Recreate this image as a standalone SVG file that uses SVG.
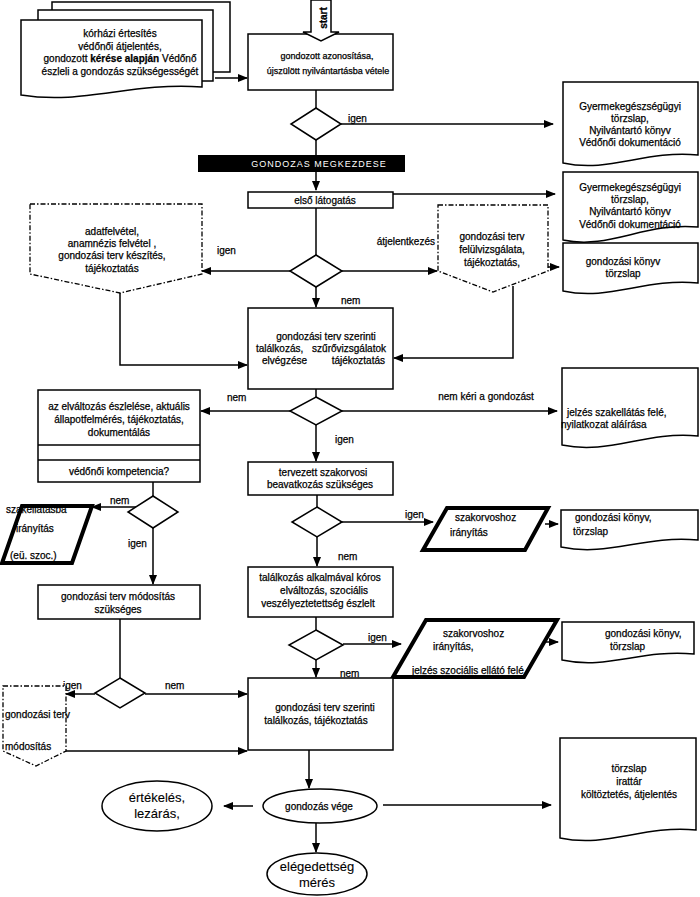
<svg xmlns="http://www.w3.org/2000/svg" width="700" height="897" viewBox="0 0 700 897">
<style>
.b{fill:#fff;stroke:#000;stroke-width:1.5}
.k{fill:#fff;stroke:#000;stroke-width:4;stroke-linejoin:miter}
.dd{fill:#fff;stroke:#000;stroke-width:1.3;stroke-dasharray:5 2 1.5 2}
.ln{fill:none;stroke:#000;stroke-width:1.5}
.ar{marker-end:url(#ah)}
.t{font-family:"Liberation Sans",Arial,sans-serif;font-size:10px;fill:#000;stroke:#000;stroke-width:0.25}
.s9{font-size:9px}
.c{text-anchor:middle}
.e{text-anchor:end}
.big{font-size:13px;stroke-width:0.1}
.w{font-family:"Liberation Sans",Arial,sans-serif;font-size:9px;fill:#fff;letter-spacing:1px;text-anchor:middle}
</style>
<defs>
<marker id="ah" markerWidth="10" markerHeight="8" refX="9" refY="4" orient="auto" markerUnits="userSpaceOnUse"><path d="M0,0 L10,4 L0,8 Z" fill="#000"/></marker>
</defs>
<rect width="700" height="897" fill="#fff"/>

<g id="connectors">
<line class="ln ar" x1="215" y1="78" x2="247" y2="78"/>
<line class="ln" x1="316" y1="90" x2="316" y2="108"/>
<line class="ln ar" x1="341" y1="124" x2="553" y2="124"/>
<line class="ln" x1="316" y1="140" x2="316" y2="155"/>
<line class="ln ar" x1="316" y1="172" x2="316" y2="190"/>
<line class="ln ar" x1="393" y1="194" x2="555" y2="194"/>
<line class="ln" x1="316" y1="208" x2="316" y2="255"/>
<line class="ln ar" x1="290" y1="271" x2="202" y2="271"/>
<line class="ln ar" x1="342" y1="271" x2="437" y2="271"/>
<line class="ln ar" x1="316" y1="287" x2="316" y2="307"/>
<polyline class="ln ar" points="120,293 120,365 247,365"/>
<polyline class="ln ar" points="513,286 513,358 394,358"/>
<line class="ln ar" x1="548" y1="267" x2="559" y2="267"/>
<line class="ln" x1="316" y1="389" x2="316" y2="397"/>
<line class="ln ar" x1="290" y1="411" x2="201" y2="411"/>
<line class="ln ar" x1="342" y1="411" x2="557" y2="411"/>
<line class="ln ar" x1="316" y1="425" x2="316" y2="461"/>
<line class="ln ar" x1="107" y1="445" x2="107" y2="459"/>
<line class="ln" x1="153" y1="482" x2="153" y2="496"/>
<line class="ln ar" x1="136" y1="507" x2="92" y2="507"/>
<line class="ln ar" x1="153" y1="528" x2="153" y2="584"/>
<line class="ln" x1="120" y1="619" x2="120" y2="678"/>
<line class="ln ar" x1="95" y1="694" x2="66" y2="694"/>
<line class="ln ar" x1="145" y1="694" x2="247" y2="694"/>
<line class="ln ar" x1="66" y1="751" x2="247" y2="751"/>
<line class="ln" x1="317" y1="495" x2="317" y2="507"/>
<line class="ln ar" x1="342" y1="522" x2="433" y2="522"/>
<line class="ln ar" x1="545" y1="524" x2="558" y2="524"/>
<line class="ln ar" x1="317" y1="537" x2="317" y2="566"/>
<line class="ln" x1="316" y1="617" x2="316" y2="630"/>
<line class="ln ar" x1="343" y1="644" x2="401" y2="644"/>
<line class="ln ar" x1="545" y1="642" x2="558" y2="642"/>
<line class="ln ar" x1="316" y1="660" x2="316" y2="677"/>
<line class="ln ar" x1="309" y1="750" x2="309" y2="788"/>
<line class="ln ar" x1="253" y1="806" x2="224" y2="806"/>
<line class="ln ar" x1="383" y1="805" x2="551" y2="805"/>
<line class="ln ar" x1="316" y1="823" x2="316" y2="852"/>
</g>

<g id="labels">
<text class="t" x="348" y="122">igen</text>
<text class="t" x="217" y="254">igen</text>
<text class="t e" x="435" y="245">átjelentkezés</text>
<text class="t" x="341" y="304">nem</text>
<text class="t" x="227" y="401">nem</text>
<text class="t c" x="486" y="400">nem kéri a gondozást</text>
<text class="t" x="335" y="443">igen</text>
<text class="t" x="110" y="504">nem</text>
<text class="t" x="128" y="547">igen</text>
<text class="t" x="63" y="689">igen</text>
<text class="t" x="165" y="689">nem</text>
<text class="t" x="405" y="518">igen</text>
<text class="t" x="338" y="560">nem</text>
<text class="t" x="368" y="641">igen</text>
<text class="t" x="340" y="677">nem</text>
</g>

<g id="source">
<rect class="b" x="52" y="2" width="178" height="70"/>
<rect class="b" x="38" y="10" width="175" height="71"/>
<path class="b" d="M21,20 H202 V87 C130,82 84,105 21,95 Z"/>
<text class="t c" x="120" y="37">kórházi értesítés</text>
<text class="t c" x="120" y="50">védőnői átjelentés,</text>
<text class="t c" x="120" y="62">gondozott <tspan font-weight="bold">kérése alapján</tspan> Védőnő</text>
<text class="t c" x="120" y="75">észleli a gondozás szükségességét</text>
</g>

<g id="n1">
<rect class="b" x="248" y="34" width="145" height="56"/>
<text class="t s9 c" x="327" y="59">gondozott azonosítása,</text>
<text class="t s9 c" x="328" y="74">újszülött nyilvántartásba vétele</text>
</g>

<g id="start">
<polygon class="b" points="311,0 331,0 331,32 339,32 321,41 303,32 311,32"/>
<text class="t" font-size="9" font-weight="bold" text-anchor="middle" transform="translate(327,18) rotate(-90)">start</text>
</g>

<g id="d1"><polygon class="b" points="316,108 341,124 316,140 291,124"/></g>

<g id="doc1">
<path class="b" d="M563,82 H698 V155 C644,150 610,173 563,163 Z"/>
<text class="t c" x="630" y="110">Gyermekegészségügyi</text>
<text class="t c" x="630" y="122">törzslap,</text>
<text class="t c" x="630" y="134">Nyilvántartó könyv</text>
<text class="t c" x="630" y="146">Védőnői dokumentáció</text>
</g>

<g id="bar">
<rect x="198" y="155" width="207" height="17" fill="#000"/>
<text class="w" x="319" y="167">GONDOZAS MEGKEZDESE</text>
</g>

<g id="n2">
<rect class="b" x="248" y="192" width="145" height="16"/>
<text class="t c" x="325" y="204">első látogatás</text>
</g>

<g id="doc2">
<path class="b" d="M563,172 H698 V227 C644,222 610,250 563,240 Z"/>
<text class="t c" x="630" y="191">Gyermekegészségügyi</text>
<text class="t c" x="630" y="203">törzslap,</text>
<text class="t c" x="630" y="215">Nyilvántartó könyv</text>
<text class="t c" x="630" y="228">Védőnői dokumentáció</text>
</g>

<g id="d2"><polygon class="b" points="316,255 342,271 316,287 290,271"/></g>

<g id="p1">
<polygon class="dd" points="30,204 202,204 202,274 120,293 30,274"/>
<text class="t c" x="112" y="235">adatfelvétel,</text>
<text class="t c" x="112" y="247">anamnézis felvétel ,</text>
<text class="t c" x="112" y="259">gondozási terv készítés,</text>
<text class="t c" x="112" y="272">tájékoztatás</text>
</g>

<g id="p2">
<polygon class="dd" points="438,205 548,205 548,271 493,292 438,271"/>
<text class="t c" x="492" y="240">gondozási terv</text>
<text class="t c" x="492" y="253">felülvizsgálata,</text>
<text class="t c" x="492" y="266">tájékoztatás,</text>
</g>

<g id="doc3">
<path class="b" d="M563,243 H698 V283 C644,278 610,301 563,291 Z"/>
<text class="t c" x="623" y="265">gondozási könyv</text>
<text class="t c" x="623" y="277">törzslap</text>
</g>

<g id="n3">
<rect class="b" x="248" y="308" width="145" height="81"/>
<text class="t c" x="326" y="340">gondozási terv szerinti</text>
<text class="t" x="256" y="352">találkozás,</text>
<text class="t e" x="386" y="352">szűrővizsgálatok</text>
<text class="t" x="262" y="364">elvégzése</text>
<text class="t e" x="385" y="364">tájékoztatás</text>
</g>

<g id="d3"><polygon class="b" points="316,397 342,411 316,425 290,411"/></g>

<g id="doc4">
<path class="b" d="M562,368 H698 V436 C644,431 610,455 562,445 Z"/>
<text class="t" x="567" y="416">jelzés szakellátás felé,</text>
<text class="t" x="561" y="428">nyilatkozat aláírása</text>
</g>

<g id="n4">
<rect class="b" x="38" y="390" width="162" height="92"/>
<line class="ln" x1="38" y1="445" x2="200" y2="445"/>
<line class="ln" x1="38" y1="460" x2="200" y2="460"/>
<text class="t c" x="119" y="410">az elváltozás észlelése, aktuális</text>
<text class="t c" x="119" y="423">állapotfelmérés, tájékoztatás,</text>
<text class="t c" x="119" y="436">dokumentálás</text>
<text class="t c" x="119" y="475">védőnői kompetencia?</text>
</g>

<g id="d4"><polygon class="b" points="153,496 178,512 153,528 128,512"/></g>

<g id="para1">
<polygon class="k" points="22,506 92,506 72,563 2,563"/>
<text class="t" x="6" y="513">szakellátásba</text>
<text class="t" x="16" y="532">irányítás</text>
<text class="t" x="10" y="559">(eü. szoc.)</text>
</g>

<g id="n5">
<rect class="b" x="248" y="462" width="145" height="33"/>
<text class="t c" x="323" y="476">tervezett szakorvosi</text>
<text class="t c" x="320" y="488">beavatkozás szükséges</text>
</g>

<g id="d6"><polygon class="b" points="317,507 342,522 317,537 292,522"/></g>

<g id="para2">
<polygon class="k" points="447,508 548,508 525,550 423,550"/>
<text class="t" x="455" y="521">szakorvoshoz</text>
<text class="t" x="450" y="536">irányítás</text>
</g>

<g id="doc5">
<path class="b" d="M561,510 H698 V540 C643,535 609,557 561,547 Z"/>
<text class="t" x="575" y="521">gondozási könyv,</text>
<text class="t" x="573" y="535">törzslap</text>
</g>

<g id="n6">
<rect class="b" x="38" y="585" width="162" height="34"/>
<text class="t c" x="118" y="600">gondozási terv módosítás</text>
<text class="t c" x="118" y="613">szükséges</text>
</g>

<g id="n7">
<rect class="b" x="248" y="567" width="145" height="50"/>
<text class="t c" x="320" y="581">találkozás alkalmával kóros</text>
<text class="t c" x="324" y="594">elváltozás, szociális</text>
<text class="t c" x="318" y="607">veszélyeztetettség észlelt</text>
</g>

<g id="d7"><polygon class="b" points="316,630 343,645 316,660 289,645"/></g>

<g id="para3">
<polygon class="k" points="426,620 557,620 524,677 393,677"/>
<text class="t" x="443" y="637">szakorvoshoz</text>
<text class="t" x="433" y="650">irányítás,</text>
<text class="t" x="412" y="674">jelzés  szociális ellátó felé</text>
</g>

<g id="doc6">
<path class="b" d="M562,622 H694 V654 C641,649 608,670 562,660 Z"/>
<text class="t" x="605" y="637">gondozási könyv,</text>
<text class="t" x="610" y="650">törzslap</text>
</g>

<g id="d5"><polygon class="b" points="120,678 145,693 120,708 95,693"/></g>

<g id="p3">
<polygon class="dd" points="3,686 66,686 66,751 36,766 3,751"/>
<text class="t" x="5" y="718">gondozási terv</text>
<text class="t" x="5" y="750">módosítás</text>
</g>

<g id="n8">
<rect class="b" x="248" y="678" width="145" height="72"/>
<text class="t c" x="325" y="711">gondozási terv szerinti</text>
<text class="t c" x="316" y="724">találkozás, tájékoztatás</text>
</g>

<g id="doc7">
<path class="b" d="M560,738 H696 V830 C642,825 608,848 560,838 Z"/>
<text class="t c" x="629" y="772">törzslap</text>
<text class="t c" x="629" y="785">irattár</text>
<text class="t c" x="629" y="798">költöztetés, átjelentés</text>
</g>

<g id="e1">
<ellipse class="b" cx="320" cy="806" rx="57" ry="17"/>
<text class="t c" x="319" y="810">gondozás vége</text>
</g>

<g id="e3">
<ellipse class="b" cx="157" cy="806" rx="55" ry="25"/>
<text class="t big c" x="157" y="802">értékelés,</text>
<text class="t big c" x="157" y="818">lezárás,</text>
</g>

<g id="e2">
<ellipse class="b" cx="317" cy="874" rx="50" ry="21"/>
<text class="t big c" x="317" y="871">elégedettség</text>
<text class="t big c" x="317" y="887">mérés</text>
</g>
</svg>
